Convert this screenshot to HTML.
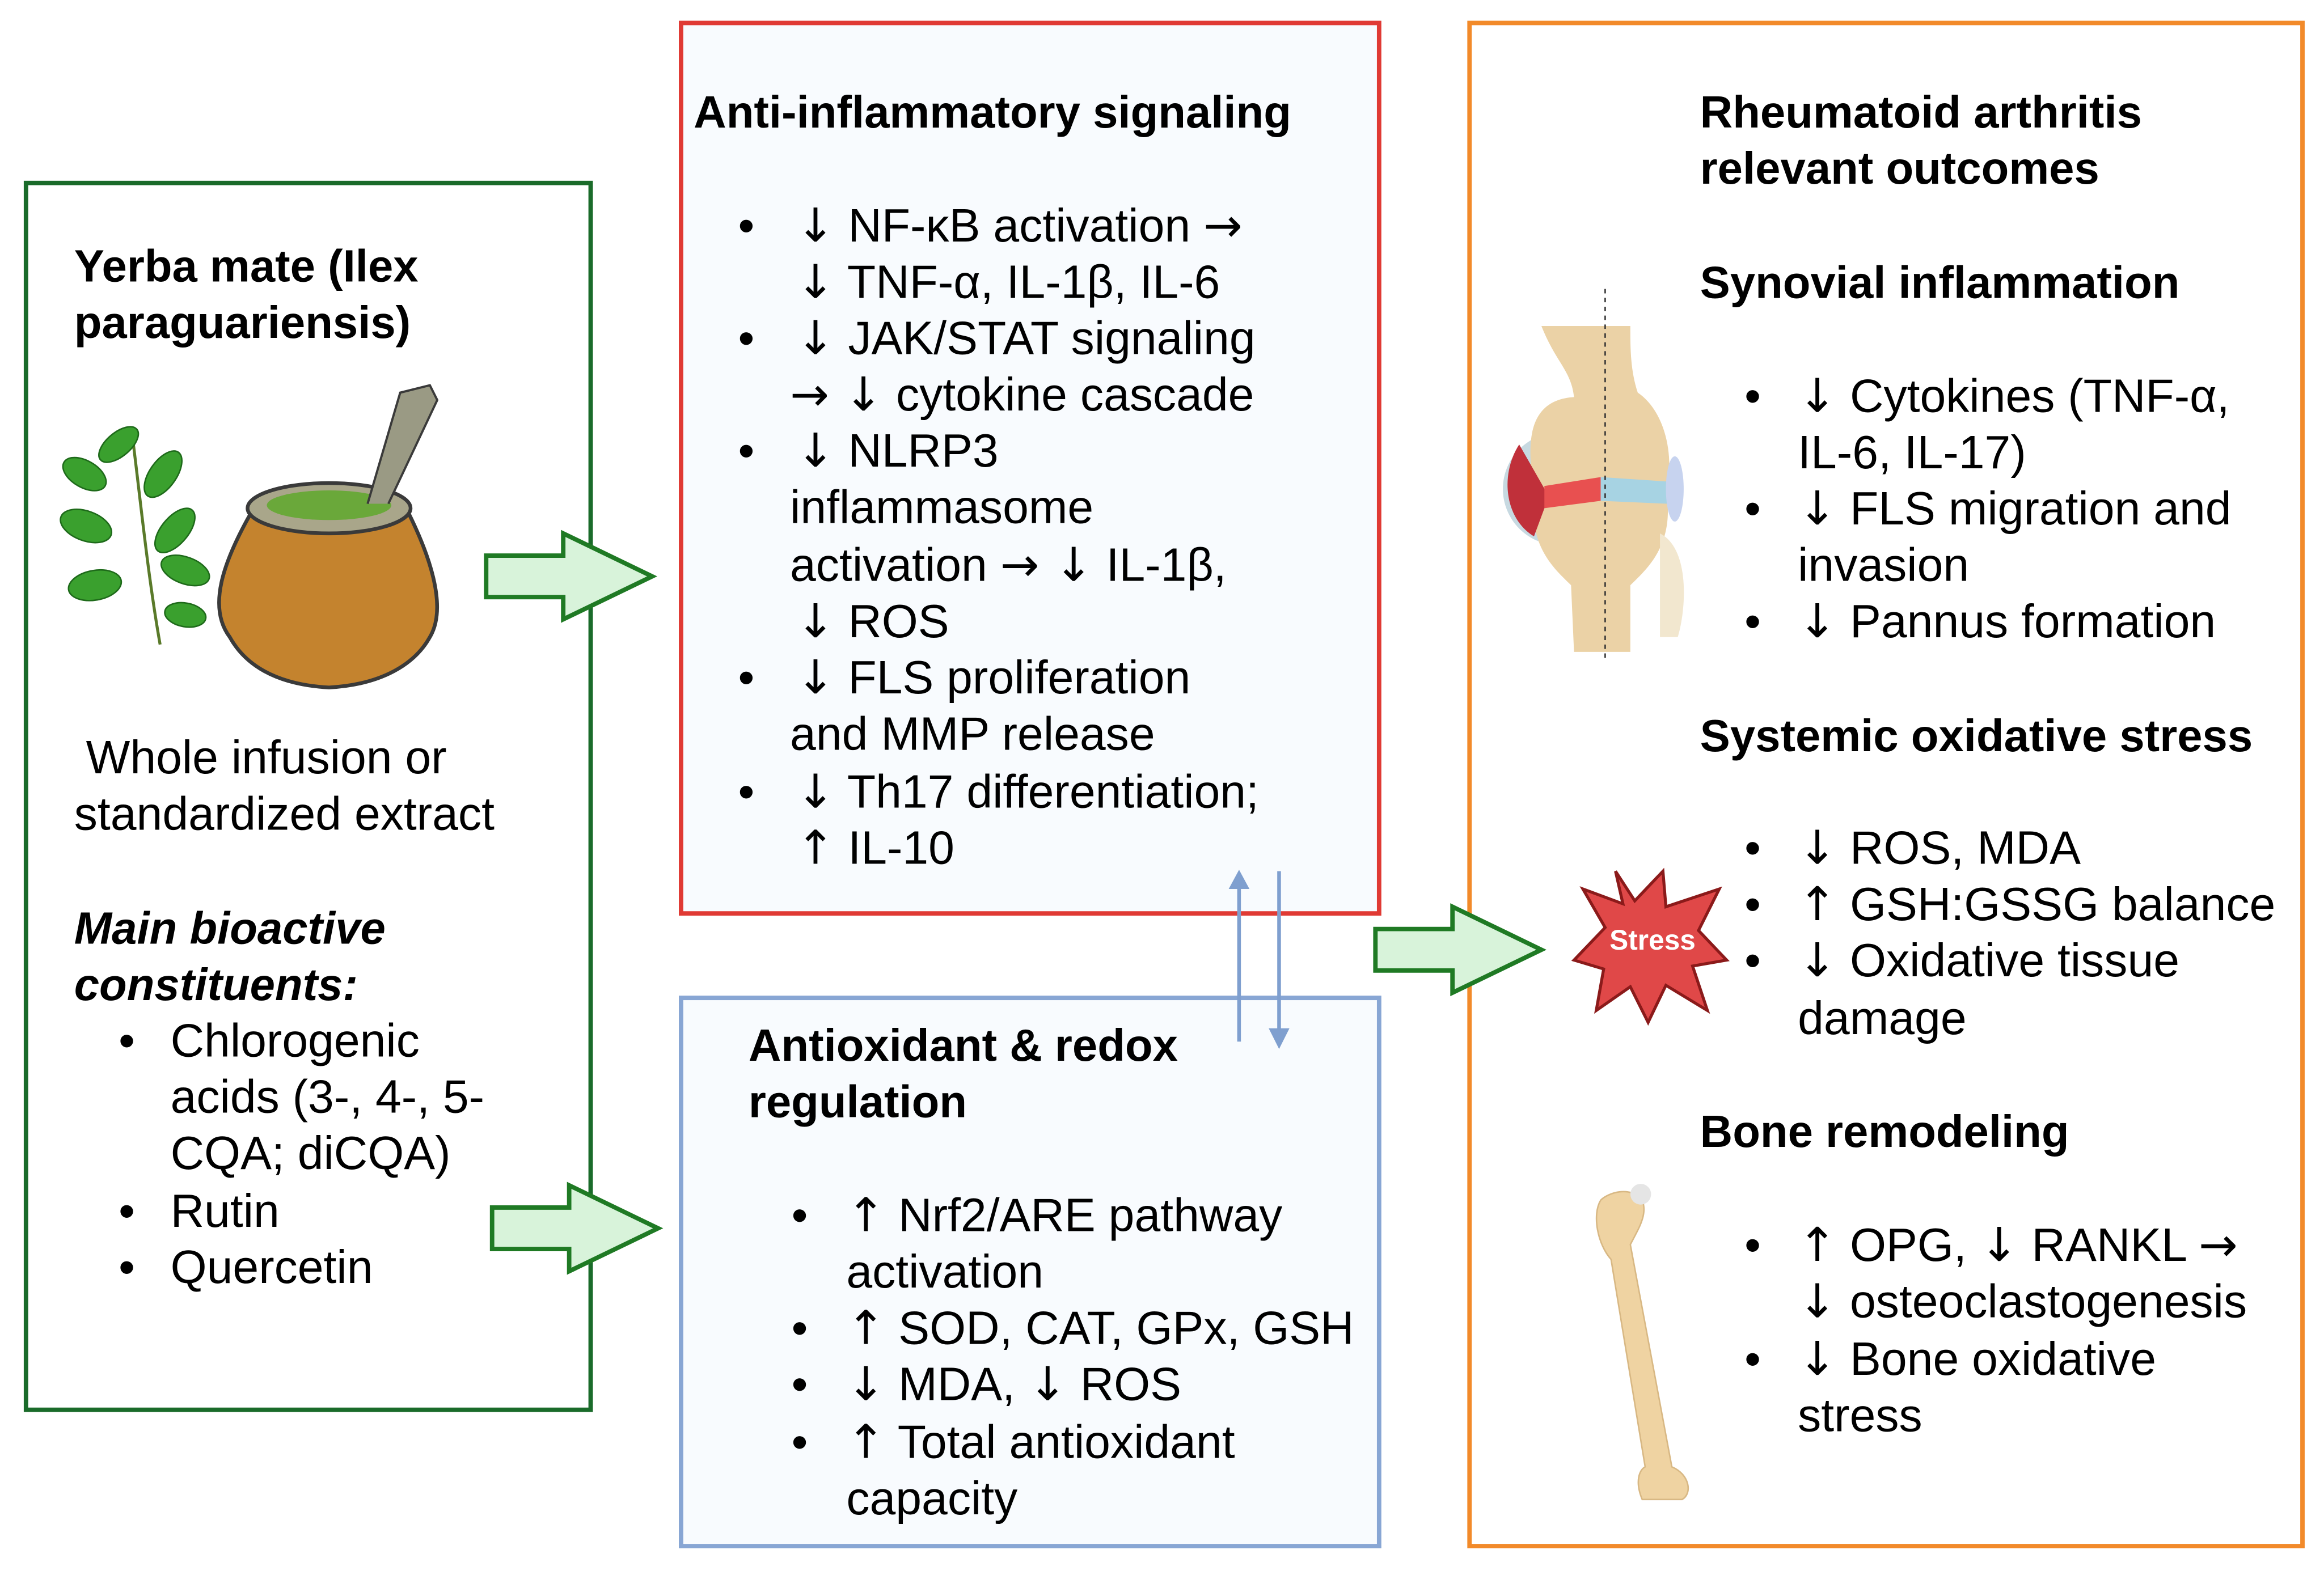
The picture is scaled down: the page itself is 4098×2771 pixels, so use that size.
<!DOCTYPE html>
<html><head><meta charset="utf-8"><style>html,body{margin:0;padding:0;background:#fff}svg{display:block}.a{font-family:"DejaVu Sans",sans-serif}</style></head><body>
<svg width="4098" height="2771" viewBox="0 0 1568 1060.3" xmlns="http://www.w3.org/2000/svg" font-family="Liberation Sans, sans-serif">
<rect width="1568" height="1061" fill="#fff"/>
<rect x="17.5" y="123.5" width="381" height="828" fill="#fff" stroke="#1a6b2a" stroke-width="3"/>
<rect x="459.5" y="15.5" width="471" height="601" fill="#f8fbfe" stroke="#e03a34" stroke-width="3"/>
<rect x="459.5" y="673.5" width="471" height="370" fill="#f8fbfe" stroke="#88a6d4" stroke-width="3"/>
<rect x="991.5" y="15.5" width="562" height="1028" fill="#fff" stroke="#f28a2a" stroke-width="3"/>
<g fill="#d8f3da" stroke="#1f7a24" stroke-width="3">
<polygon points="328,375 380,375 380,360 440,389 380,418 380,403 328,403"/>
<polygon points="332,815 384,815 384,800 444,829 384,858 384,843 332,843"/>
<polygon points="928,627 980,627 980,612 1040,641 980,670 980,655 928,655"/>
</g>
<g stroke="#7f9fcf" stroke-width="2.5" fill="#7f9fcf">
<line x1="836" y1="703" x2="836" y2="596"/><polygon points="829,600 843,600 836,587" stroke="none"/>
<line x1="863" y1="588" x2="863" y2="698"/><polygon points="856,694 870,694 863,708" stroke="none"/>
</g>
<g fill="#3aa02e" stroke="#1e6a1a" stroke-width="1">
<path d="M108,435 C100,390 95,340 90,300" fill="none" stroke="#5a7a2a" stroke-width="2"/>
<ellipse cx="80" cy="300" rx="16" ry="8" transform="rotate(-40 80 300)"/>
<ellipse cx="57" cy="320" rx="16" ry="9" transform="rotate(30 57 320)"/>
<ellipse cx="110" cy="320" rx="18" ry="9" transform="rotate(-55 110 320)"/>
<ellipse cx="58" cy="355" rx="18" ry="10" transform="rotate(20 58 355)"/>
<ellipse cx="118" cy="358" rx="18" ry="9" transform="rotate(-50 118 358)"/>
<ellipse cx="64" cy="395" rx="18" ry="10" transform="rotate(-10 64 395)"/>
<ellipse cx="125" cy="385" rx="17" ry="9" transform="rotate(20 125 385)"/>
<ellipse cx="125" cy="415" rx="14" ry="8" transform="rotate(10 125 415)"/>
</g>
<path d="M170,345 C150,380 140,410 155,430 C165,448 185,462 222,464 C258,462 280,448 290,430 C302,410 290,375 275,345 Z" fill="#c4832e" stroke="#3a3a3a" stroke-width="2.5"/>
<ellipse cx="222" cy="343" rx="55" ry="17" fill="#a9a68a" stroke="#3a3a3a" stroke-width="2.5"/>
<ellipse cx="222" cy="341" rx="42" ry="10" fill="#6aa83a"/>
<path d="M248,340 L270,265 L290,260 L295,270 L262,340" fill="#9a9a84" stroke="#3a3a3a" stroke-width="1.5"/>
<g>
<circle cx="1052" cy="330" r="38" fill="#b9cfd9" opacity="0.8"/>
<path d="M1040,220 C1050,245 1060,250 1062,268 C1030,270 1030,300 1035,330 L1080,330 L1125,330 C1130,300 1120,275 1105,265 C1100,250 1100,235 1100,220 Z" fill="#ebd2a6"/>
<path d="M1035,338 C1032,370 1050,385 1060,395 L1062,440 L1100,440 L1100,395 C1110,385 1128,370 1125,338 Z" fill="#ebd2a6"/>
<path d="M1025,300 C1012,320 1015,350 1035,362 L1045,335 Z" fill="#c0303a"/>
<path d="M1042,328 L1080,322 L1080,338 L1042,343 Z" fill="#e85050"/>
<path d="M1080,322 L1125,325 L1125,340 L1080,338 Z" fill="#a7d3e3"/>
<ellipse cx="1130" cy="330" rx="6" ry="22" fill="#c7d3ef"/>
<path d="M1120,360 C1140,370 1138,410 1132,430 L1120,430 Z" fill="#f2e7cf"/>
<line x1="1083" y1="195" x2="1083" y2="445" stroke="#333" stroke-width="1" stroke-dasharray="3,3"/>
</g>
<polygon points="1090,588 1103,608 1122,588 1124,612 1160,600 1146,628 1165,648 1142,652 1152,682 1124,665 1112,690 1100,666 1077,682 1082,654 1062,648 1083,626 1068,600 1095,610" fill="#e04848" stroke="#8b1a1a" stroke-width="2"/>
<text x="1115" y="641" font-size="19" font-weight="bold" fill="#fff" text-anchor="middle">Stress</text>
<path d="M1080,810 C1085,805 1100,800 1108,810 C1112,820 1105,830 1100,840 L1128,990 C1140,995 1142,1008 1135,1012 L1108,1012 C1103,1000 1106,992 1110,990 L1087,850 C1078,840 1074,820 1080,810 Z" fill="#efd3a2" stroke="#d8b884" stroke-width="1"/>
<circle cx="1107" cy="806" r="7" fill="#e5e5e5"/>
<g font-size="30.5" font-weight="bold" fill="#000">
<text x="468" y="86">Anti-inflammatory signaling</text>
<text x="50" y="190">Yerba mate (Ilex</text>
<text x="50" y="228">paraguariensis)</text>
<text x="505" y="716">Antioxidant &amp; redox</text>
<text x="505" y="754">regulation</text>
<text x="1147" y="86">Rheumatoid arthritis</text>
<text x="1147" y="124">relevant outcomes</text>
<text x="1147" y="201">Synovial inflammation</text>
<text x="1147" y="507">Systemic oxidative stress</text>
<text x="1147" y="774">Bone remodeling</text>
<text x="50" y="637" font-style="italic">Main bioactive</text>
<text x="50" y="675" font-style="italic">constituents:</text>
</g>
<g font-size="31.5" fill="#000">
<text x="58" y="522">Whole infusion or</text>
<text x="50" y="560">standardized extract</text>
<text x="80" y="713">•</text><text x="115" y="713">Chlorogenic</text>
<text x="115" y="751">acids (3-, 4-, 5-</text>
<text x="115" y="789">CQA; diCQA)</text>
<text x="80" y="828">•</text><text x="115" y="828">Rutin</text>
<text x="80" y="866">•</text><text x="115" y="866">Quercetin</text>

<text x="498" y="163">•</text><text x="537" y="163"><tspan class="a">↓</tspan> NF-κB activation <tspan class="a">→</tspan></text>
<text x="537" y="201"><tspan class="a">↓</tspan> TNF-α, IL-1β, IL-6</text>
<text x="498" y="239">•</text><text x="537" y="239"><tspan class="a">↓</tspan> JAK/STAT signaling</text>
<text x="533" y="277"><tspan class="a">→ ↓</tspan> cytokine cascade</text>
<text x="498" y="315">•</text><text x="537" y="315"><tspan class="a">↓</tspan> NLRP3</text>
<text x="533" y="353">inflammasome</text>
<text x="533" y="392">activation <tspan class="a">→ ↓</tspan> IL-1β,</text>
<text x="537" y="430"><tspan class="a">↓</tspan> ROS</text>
<text x="498" y="468">•</text><text x="537" y="468"><tspan class="a">↓</tspan> FLS proliferation</text>
<text x="533" y="506">and MMP release</text>
<text x="498" y="545">•</text><text x="537" y="545"><tspan class="a">↓</tspan> Th17 differentiation;</text>
<text x="537" y="583"><tspan class="a">↑</tspan> IL-10</text>

<text x="534" y="831">•</text><text x="571" y="831"><tspan class="a">↑</tspan> Nrf2/ARE pathway</text>
<text x="571" y="869">activation</text>
<text x="534" y="907">•</text><text x="571" y="907"><tspan class="a">↑</tspan> SOD, CAT, GPx, GSH</text>
<text x="534" y="945">•</text><text x="571" y="945"><tspan class="a">↓</tspan> MDA, <tspan class="a">↓</tspan> ROS</text>
<text x="534" y="984">•</text><text x="571" y="984"><tspan class="a">↑</tspan> Total antioxidant</text>
<text x="571" y="1022">capacity</text>

<text x="1177" y="278">•</text><text x="1213" y="278"><tspan class="a">↓</tspan> Cytokines (TNF-α,</text>
<text x="1213" y="316">IL-6, IL-17)</text>
<text x="1177" y="354">•</text><text x="1213" y="354"><tspan class="a">↓</tspan> FLS migration and</text>
<text x="1213" y="392">invasion</text>
<text x="1177" y="430">•</text><text x="1213" y="430"><tspan class="a">↓</tspan> Pannus formation</text>
<text x="1177" y="583">•</text><text x="1213" y="583"><tspan class="a">↓</tspan> ROS, MDA</text>
<text x="1177" y="621">•</text><text x="1213" y="621"><tspan class="a">↑</tspan> GSH:GSSG balance</text>
<text x="1177" y="659">•</text><text x="1213" y="659"><tspan class="a">↓</tspan> Oxidative tissue</text>
<text x="1213" y="698">damage</text>
<text x="1177" y="851">•</text><text x="1213" y="851"><tspan class="a">↑</tspan> OPG, <tspan class="a">↓</tspan> RANKL <tspan class="a">→</tspan></text>
<text x="1213" y="889"><tspan class="a">↓</tspan> osteoclastogenesis</text>
<text x="1177" y="928">•</text><text x="1213" y="928"><tspan class="a">↓</tspan> Bone oxidative</text>
<text x="1213" y="966">stress</text>
</g>
</svg>
</body></html>
